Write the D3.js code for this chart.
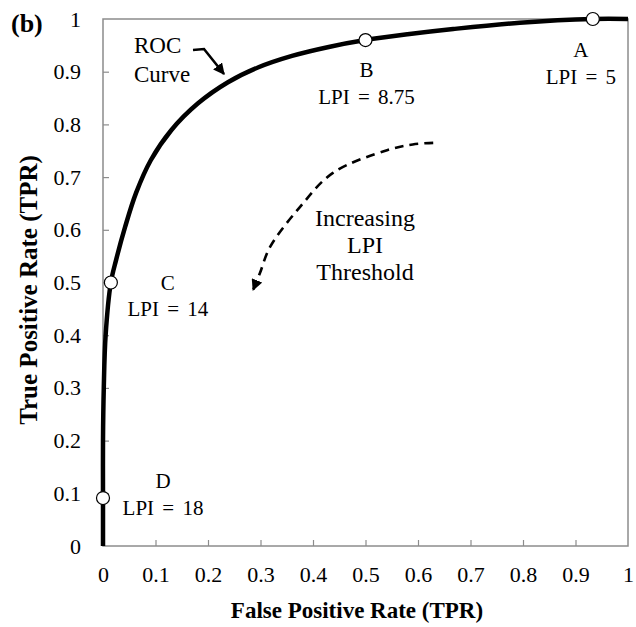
<!DOCTYPE html>
<html>
<head>
<meta charset="utf-8">
<script src="https://cdn.jsdelivr.net/npm/d3@7"></script>
<style>
  body { margin: 0; background: #fff; }
  svg text { font-family: "Liberation Serif", "Times New Roman", serif; fill: #000; }
</style>
</head>
<body>
<svg></svg>
<script>
const width = 636, height = 627;
const svg = d3.select("svg").attr("width", width).attr("height", height);

// ROC curve
const fpr = [0, 0, 0, 0.0015, 0.005, 0.015, 0.025, 0.042, 0.063, 0.091, 0.13, 0.181, 0.238, 0.295, 0.36, 0.43, 0.5, 0.58, 0.667, 0.794, 0.933, 1];
const tpr = [0, 0.091, 0.2, 0.3, 0.4, 0.5, 0.543, 0.605, 0.67, 0.732, 0.789, 0.84, 0.88, 0.908, 0.93, 0.947, 0.96, 0.971, 0.981, 0.993, 1.0, 1.0];

// threshold points
const pointNames = ["A", "B", "C", "D"];
const pointLPI = ["5", "8.75", "14", "18"];
const pointFpr = [0.933, 0.5, 0.015, 0];
const pointTpr = [1.0, 0.96, 0.5, 0.091];

// dashed "increasing threshold" arrow
const arrowFpr = [0.629, 0.59, 0.541, 0.438, 0.375, 0.318, 0.299, 0.286];
const arrowTpr = [0.765, 0.762, 0.751, 0.708, 0.643, 0.567, 0.518, 0.486];

const xTicks = [0, 0.1, 0.2, 0.3, 0.4, 0.5, 0.6, 0.7, 0.8, 0.9, 1];
const yTicks = [0, 0.1, 0.2, 0.3, 0.4, 0.5, 0.6, 0.7, 0.8, 0.9, 1];

const margin = {left: 103, right: 8, top: 19, bottom: 81};
const x = d3.scaleLinear().domain([0, 1]).range([margin.left, width - margin.right]);
const y = d3.scaleLinear().domain([0, 1]).range([height - margin.bottom, margin.top]);

const grey = "#8c8c8c";

// arrow marker
const defs = svg.append("defs");
defs.append("marker")
    .attr("id", "head")
    .attr("viewBox", "0 0 10 10")
    .attr("refX", 9).attr("refY", 5)
    .attr("markerWidth", 4.4).attr("markerHeight", 4.4)
    .attr("markerUnits", "strokeWidth")
    .attr("orient", "auto")
  .append("path").attr("d", "M0,0L10,5L0,10Z").attr("fill", "#000");

// frame
svg.append("rect")
    .attr("x", x(0)).attr("y", y(1))
    .attr("width", x(1) - x(0)).attr("height", y(0) - y(1))
    .attr("fill", "none").attr("stroke", grey).attr("stroke-width", 1.5);

// axes with inward ticks
const xAxis = svg.append("g")
    .attr("transform", `translate(0,${y(0)})`)
    .call(d3.axisBottom(x).tickValues(xTicks).tickSize(-6)
        .tickFormat(d => d3.format("")(d)));
xAxis.select(".domain").remove();
xAxis.selectAll(".tick line").attr("stroke", grey).attr("stroke-width", 1.2);
xAxis.selectAll(".tick text")
    .attr("font-size", 22).attr("font-family", "Liberation Serif")
    .attr("y", 36).attr("dy", 0);

const yAxis = svg.append("g")
    .attr("transform", `translate(${x(0)},0)`)
    .call(d3.axisLeft(y).tickValues(yTicks).tickSize(-6).tickPadding(22)
        .tickFormat(d => d3.format("")(d)));
yAxis.select(".domain").remove();
yAxis.selectAll(".tick line").attr("stroke", grey).attr("stroke-width", 1.2);
yAxis.selectAll(".tick text").attr("font-size", 22).attr("font-family", "Liberation Serif");
// no tick marks on the frame corners
xAxis.selectAll(".tick line").filter(d => d === 0 || d === 1).remove();
yAxis.selectAll(".tick line").filter(d => d === 0 || d === 1).remove();

// axis titles
svg.append("text")
    .attr("x", 357).attr("y", 618)
    .attr("text-anchor", "middle").attr("font-size", 23).attr("font-weight", "bold")
    .text("False Positive Rate (TPR)");

svg.append("text")
    .attr("transform", "translate(37,290) rotate(-90)")
    .attr("text-anchor", "middle").attr("font-size", 25).attr("font-weight", "bold")
    .text("True Positive Rate (TPR)");

svg.append("text")
    .attr("x", 11).attr("y", 32)
    .attr("font-size", 26).attr("font-weight", "bold")
    .text("(b)");

// ROC curve
const rocData = fpr.map((f, i) => [f, tpr[i]]);
const line = d3.line().x(d => x(d[0])).y(d => y(d[1])).curve(d3.curveCatmullRom.alpha(0.5));
svg.append("path")
    .datum(rocData)
    .attr("d", line)
    .attr("fill", "none").attr("stroke", "#000").attr("stroke-width", 4.5);

// threshold points
const pts = pointNames.map((n, i) => ({name: n, lpi: pointLPI[i], fx: pointFpr[i], ty: pointTpr[i]}));
svg.selectAll("circle.pt")
    .data(pts)
    .enter().append("circle")
    .attr("class", "pt")
    .attr("cx", d => x(d.fx)).attr("cy", d => y(d.ty))
    .attr("r", 6.5)
    .attr("fill", "#fff").attr("stroke", "#000").attr("stroke-width", 1.2);

// point labels (offsets from the point)
const labelDx = [-12, 1, 57, 60];
const labelDy = [38, 37, 7, -10];
pts.forEach((d, i) => {
    const lx = x(d.fx) + labelDx[i], ly = y(d.ty) + labelDy[i];
    const t = svg.append("text").attr("text-anchor", "middle").attr("font-size", 21)
        .attr("word-spacing", 3);
    t.append("tspan").attr("x", lx).attr("y", ly).text(d.name);
    t.append("tspan").attr("x", lx).attr("y", ly + 26.5).text("LPI = " + d.lpi);
});

// "ROC Curve" label with arrow
const roc = svg.append("text").attr("font-size", 23);
roc.append("tspan").attr("x", 134).attr("y", 53).text("ROC");
roc.append("tspan").attr("x", 134).attr("y", 82).text("Curve");
svg.append("path")
    .attr("d", "M193,50 L204,49 L224,74")
    .attr("fill", "none").attr("stroke", "#000").attr("stroke-width", 2.6)
    .attr("marker-end", "url(#head)");

// dashed arrow
const arrowData = arrowFpr.map((f, i) => [f, arrowTpr[i]]);
svg.append("path")
    .datum(arrowData)
    .attr("d", d3.line().x(d => x(d[0])).y(d => y(d[1])).curve(d3.curveCatmullRom.alpha(0.5)))
    .attr("fill", "none").attr("stroke", "#000").attr("stroke-width", 2.6)
    .attr("stroke-dasharray", "9,6")
    .attr("marker-end", "url(#head)");

const inc = svg.append("text").attr("text-anchor", "middle").attr("font-size", 24);
["Increasing", "LPI", "Threshold"].forEach((s, i) => {
    inc.append("tspan").attr("x", 365).attr("y", 226 + i * 27).text(s);
});
</script>
</body>
</html>
